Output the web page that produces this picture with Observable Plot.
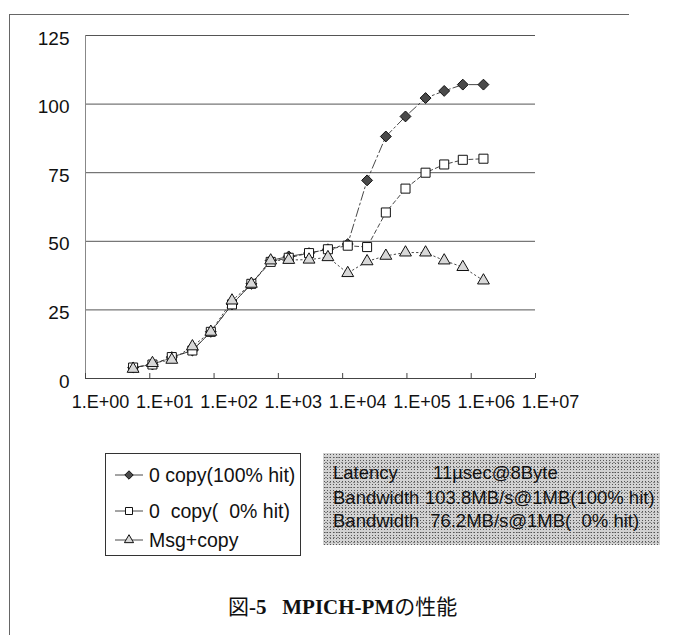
<!DOCTYPE html>
<html><head><meta charset="utf-8">
<script src="https://cdn.jsdelivr.net/npm/d3@7"></script>
<script src="https://cdn.jsdelivr.net/npm/@observablehq/plot@0.6"></script>
<style>
body{margin:0;background:#fff;}
#wrap{position:relative;width:680px;height:635px;overflow:hidden;font-family:"Liberation Sans",Arial,sans-serif;color:#111;}
#frameTop{position:absolute;left:9px;top:14px;width:620px;height:0;border-top:1px solid #666;}
#frameLeft{position:absolute;left:9px;top:14px;width:0;height:621px;border-left:1px solid #666;}
#chart{position:absolute;left:0;top:0;}
#legend{position:absolute;left:105px;top:453px;width:194px;height:101px;border:1px solid #333;background:#fff;}
.lrow{position:absolute;left:0;height:24px;display:flex;align-items:center;font-size:19.5px;white-space:pre;}
.lrow svg{margin-left:9px;margin-right:6px;}
#info{position:absolute;left:323px;top:453px;width:337px;height:92px;
 background-color:#d2d2d2;
 background-image:radial-gradient(#555 0.7px, transparent 1px),radial-gradient(#888 0.6px, transparent 0.9px);
 background-size:3px 3px, 4px 5px;background-position:0 0,1px 2px;}
.irow{position:absolute;left:10px;font-size:18.5px;white-space:pre;line-height:22px;}
.irow .c2{position:absolute;top:0;}
#caption{position:absolute;left:228px;top:591px;white-space:pre;font-size:21px;line-height:28px;font-family:"Liberation Serif","Noto Sans CJK JP",serif;}
#caption .cjk{font-family:"Noto Sans CJK JP",sans-serif;font-size:21px;font-weight:400;}
#caption b{font-family:"Liberation Serif",serif;}
</style>
</head><body>
<div id="wrap">
  <div id="frameTop"></div>
  <div id="frameLeft"></div>
  <div id="chart"></div>
  <div id="legend"></div>
  <div id="info"></div>
  <div id="caption"><span class="cjk">図</span><b>-5</b>   <b>MPICH-PM</b><span class="cjk">の性能</span></div>
</div>
<script>
// message sizes (bytes)
const sizes = [5.5, 11, 22, 46, 89, 190, 380, 760, 1450, 3000, 5900, 12000, 24000, 47000, 95000, 195000, 380000, 740000, 1550000];
// bandwidth (MB/s)
const copy100 = [4, 5.1, 7.8, 10.2, 17, 27, 34.5, 43, 44.5, 45.7, 47.1, 49, 72.2, 88.2, 95.5, 102.2, 104.8, 107.1, 107.1];
const copy0   = [4, 5.1, 7.8, 10.2, 17, 27, 34.5, 42.5, 44, 45.7, 47.1, 48.4, 47.9, 60.5, 69.2, 75, 78, 79.7, 80.1];
const msgCopy = [3.5, 5.6, 6.8, 11.7, 17, 28.4, 34.5, 43, 43.2, 43.3, 44.2, 38.4, 42.7, 44.7, 45.9, 45.9, 43, 40.6, 35.7];
const seriesNames = ["0 copy(100% hit)", "0  copy(  0% hit)", "Msg+copy"];
const yTicks = [0, 25, 50, 75, 100, 125];
const xTicks = [1, 10, 100, 1000, 10000, 100000, 1000000, 10000000];
const infoLines = [["Latency", "11\u00b5sec@8Byte"], ["Bandwidth", "103.8MB/s@1MB(100% hit)"], ["Bandwidth", " 76.2MB/s@1MB(  0% hit)"]];

const styles = [
  {symbol: "diamond2", r: 4.9, fill: "#4a4a4a", stroke: "#111", dash: "9,3,2,3"},
  {symbol: "square", r: 5.1, fill: "#fff", stroke: "#111", dash: "4,3"},
  {symbol: "triangle", r: 4.4, fill: "#d8d8d8", stroke: "#111", dash: "1.5,3"}
];
const seriesVals = [copy100, copy0, msgCopy];
const data = [];
seriesVals.forEach((vals, s) => sizes.forEach((x, i) => data.push({s, x, y: vals[i]})));

const marks = [
  Plot.ruleY(yTicks.filter(d => d > 0), {stroke: "#555", strokeWidth: 1}),
  Plot.ruleX([1], {stroke: "#888", strokeWidth: 1}),
  Plot.ruleY([0], {stroke: "#444", strokeWidth: 1}),
  Plot.axisY({ticks: yTicks, tickSize: 0, tickPadding: 16, dy: 3, fontSize: 19, label: null, tickFormat: d => String(d)}),
  Plot.axisX({ticks: xTicks, tickSize: -5, tickFormat: () => "", label: null, stroke: "#444"}),
  Plot.axisX({ticks: xTicks, tickSize: 0, tickPadding: 17, dx: 15, fontSize: 18, label: null,
    tickFormat: d => "1.E+" + String(Math.round(Math.log10(d))).padStart(2, "0")})
];
styles.forEach((st, s) => {
  marks.push(Plot.line(data.filter(d => d.s === s), {x: "x", y: "y", stroke: "#333", strokeWidth: 0.9, strokeDasharray: st.dash}));
});
styles.forEach((st, s) => {
  marks.push(Plot.dot(data.filter(d => d.s === s), {x: "x", y: "y", symbol: st.symbol, r: st.r, fill: st.fill, stroke: st.stroke, strokeWidth: 1}));
});

const chart = Plot.plot({
  width: 680, height: 430,
  marginLeft: 85, marginRight: 145, marginTop: 35, marginBottom: 52,
  style: {fontFamily: "'Liberation Sans', Arial, sans-serif", color: "#111", background: "transparent"},
  x: {type: "log", domain: [1, 1e7], label: null},
  y: {domain: [0, 125], label: null},
  marks
});
document.getElementById("chart").appendChild(chart);

// legend
const legend = document.getElementById("legend");
const rowTops = [9, 45, 74];
seriesNames.forEach((name, s) => {
  const st = styles[s];
  const row = document.createElement("div");
  row.className = "lrow";
  row.style.top = rowTops[s] + "px";
  const sym = d3.symbol(s === 0 ? d3.symbolDiamond2 : s === 1 ? d3.symbolSquare : d3.symbolTriangle, Math.PI * st.r * st.r * 0.6)();
  row.innerHTML = `<svg width="28" height="16" viewBox="-14 -8 28 16"><line x1="-14" x2="14" y1="0" y2="0" stroke="#333" stroke-width="0.9"/><path d="${sym}" fill="${st.fill}" stroke="#111" stroke-width="1"/></svg><span>${name}</span>`;
  legend.appendChild(row);
});

// info box
const info = document.getElementById("info");
const infoTops = [9, 34, 57];
const col2 = [100, 92, 92];
infoLines.forEach((ln, i) => {
  const r = document.createElement("div");
  r.className = "irow";
  r.style.top = infoTops[i] + "px";
  r.innerHTML = `<span>${ln[0]}</span><span class="c2" style="left:${col2[i]}px">${ln[1]}</span>`;
  info.appendChild(r);
});
</script>
</body></html>
